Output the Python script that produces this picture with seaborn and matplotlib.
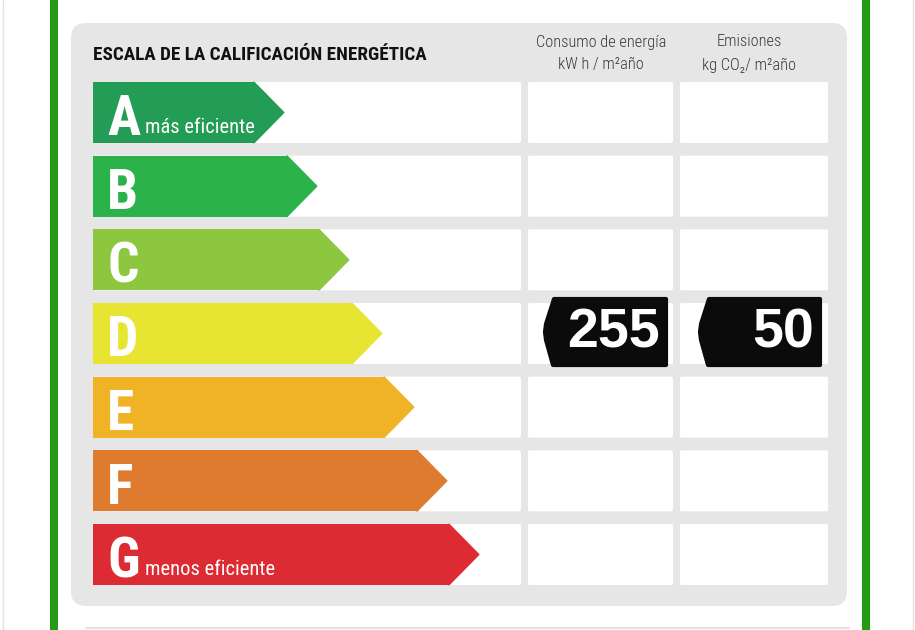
import matplotlib.pyplot as plt
import seaborn as sns
from matplotlib.patches import FancyBboxPatch, Polygon

# energy rating scale
letters = ['A', 'B', 'C', 'D', 'E', 'F', 'G']
bar_len = [162, 195, 227, 260, 292, 325, 357]
bar_colors = ['#239c55', '#2cb24b', '#8dc63f', '#e8e432', '#efb325', '#df7b2f', '#dd2b33']
captions = ['más eficiente', '', '', '', '', '', 'menos eficiente']
rating = 'D'
consumo = 255
emisiones = 50

sns.set_style('white')
narrow = ['Roboto Condensed', 'DejaVu Sans']

W, H = 915, 630
fig = plt.figure(figsize=(W / 100, H / 100), dpi=100)
fig.patch.set_facecolor('white')

# background layer in pixel coordinates
ax = fig.add_axes([0, 0, 1, 1])
ax.set_xlim(0, W)
ax.set_ylim(H, 0)
ax.axis('off')

row_top, row_h, pitch = 82, 61, 73.67
x0 = 93

# frame lines
ax.axvspan(50, 57.5, color='#229a14', lw=0)
ax.axvspan(862, 869.5, color='#229a14', lw=0)
ax.plot([2.5, 2.5], [0, H], color='#e2e2e2', lw=1)
ax.plot([912.5, 912.5], [0, H], color='#e2e2e2', lw=1)
ax.plot([86, 849], [627.5, 627.5], color='#e2e2e2', lw=1.5)

# grey panel
ax.add_patch(FancyBboxPatch((71 + 15, 23 + 15), 776 - 30, 583 - 30,
                            boxstyle='round,pad=15', fc='#e6e6e6', ec='none'))

# white cells
cols = [(x0, 521), (528, 673), (680, 828)]
for i in range(len(letters)):
    y = row_top + i * pitch
    for a, b in cols:
        ax.add_patch(FancyBboxPatch((a + 2, y + 2), b - a - 4, row_h - 4,
                                    boxstyle='round,pad=2', fc='white', ec='none'))

# header
ax.text(x0, 55, 'ESCALA DE LA CALIFICACIÓN ENERGÉTICA', family=narrow,
        fontweight='bold', fontsize=13.8, color='#111111', va='center', ha='left')
hdr = dict(family=narrow, fontweight='light', fontsize=11.8, color='#3a3a3a',
           ha='center', va='center')
ax.text(601, 42, 'Consumo de energía', **hdr)
ax.text(601, 65, 'kW h / m²año', **hdr)
ax.text(749, 42, 'Emisiones', **hdr)
ax.text(749, 65, 'kg CO₂/ m²año', **hdr)

# value tags on the rated row
r = letters.index(rating)
ty = row_top + r * pitch
for (left, right), val in [((545, 666), consumo), ((700, 820), emisiones)]:
    top, bot = ty - 4, ty + row_h + 1
    mid = (top + bot) / 2
    pts = [(left + 9, top), (right, top), (right, bot), (left + 8, bot),
           (left + 1, mid + 8), (left, mid), (left + 1, mid - 8)]
    ax.add_patch(Polygon(pts, closed=True, fc='#0b0b0b', ec='#0b0b0b',
                         lw=3, joinstyle='round'))
    ax.text(right - 6, mid + 1, str(val), family='Liberation Sans', fontweight='bold',
            fontsize=40, color='white', ha='right', va='center')

# arrows, y in row units
ax2 = fig.add_axes([0, 0, 1, 1])
bh = row_h / pitch
sns.barplot(x=bar_len, y=letters, hue=letters, palette=bar_colors, orient='h',
            width=bh, saturation=1, legend=False, linewidth=0, ax=ax2)
for i, (L, c) in enumerate(zip(bar_len, bar_colors)):
    ax2.add_patch(Polygon([(L - 1, i - bh / 2), (L + 29, i), (L - 1, i + bh / 2)],
                          closed=True, fc=c, ec=c, lw=0.8, joinstyle='round'))
    ax2.text(14, i + 0.31, letters[i], family=narrow, fontweight='bold',
             fontsize=40, color='white', ha='left', va='baseline')
    if captions[i]:
        ax2.text(52, i + 0.28, captions[i], family=narrow, fontsize=14.8,
                 color='white', ha='left', va='baseline')

ax2.set_xlim(-x0, W - x0)
ax2.set_ylim((H - 112.5) / pitch, -112.5 / pitch)
ax2.axis('off')

fig.savefig('out.png', dpi=100)
